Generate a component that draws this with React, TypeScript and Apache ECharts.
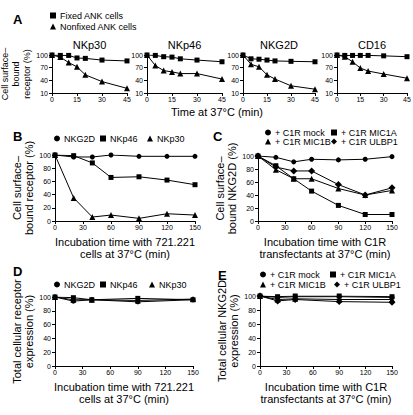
import React, { useEffect, useRef } from "react";
import * as echarts from "echarts";

const FONT = "Arial, 'Liberation Sans', Helvetica, sans-serif";

// ---------- Panel A data ----------
const aTimes = [0, 5, 10, 15, 20, 30, 45];
const aReceptors = ["NKp30", "NKp46", "NKG2D", "CD16"];
const aLegendNames = ["Fixed ANK cells", "Nonfixed ANK cells"];
const nkp30Fixed = [100, 99, 99, 93, 92, 88, 86];
const nkp30Nonfixed = [100, 95, 82, 72, 53, 37, 21];
const nkp46Fixed = [100, 99, 96, 95, 91, 88, 84];
const nkp46Nonfixed = [100, 75, 63, 60, 56, 56, 43];
const nkg2dFixed = [100, 91, 90, 88, 86, 85, 84];
const nkg2dNonfixed = [100, 78, 72, 53, 43, 27, 19];
const cd16Fixed = [100, 99, 99, 99, 99, 98, 96];
const cd16Nonfixed = [100, 96, 84, 69, 62, 55, 45];
const aFixed = [nkp30Fixed, nkp46Fixed, nkg2dFixed, cd16Fixed];
const aNonfixed = [nkp30Nonfixed, nkp46Nonfixed, nkg2dNonfixed, cd16Nonfixed];

// ---------- Panels B / C data ----------
const bcTimes = [0, 20, 40, 60, 90, 120, 150];
const bNames = ["NKG2D", "NKp46", "NKp30"];
const bNKG2D = [100, 97, 97, 100, 98, 98, 98];
const bNKp46 = [100, 99, 88, 66, 67, 62, 55];
const bNKp30 = [100, 35, 6, 9, 4, 11, 9];
const cNames = ["+ C1R mock", "+ C1R MIC1A", "+ C1R MIC1B", "+ C1R ULBP1"];
const cMock = [100, 98, 91, 95, 94, 95, 99];
const cMIC1A = [100, 85, 65, 46, 24, 10, 10];
const cMIC1B = [100, 79, 65, 65, 50, 40, 47];
const cULBP1 = [100, 83, 77, 77, 56, 40, 51];

// ---------- Panels D / E data ----------
const deTimes = [0, 20, 40, 90, 150];
const dNKG2D = [100, 94, 96, 93, 96];
const dNKp46 = [100, 99, 96, 98, 96];
const dNKp30 = [100, 96, 96, 95, 97];
const eMock = [100, 98, 99, 99, 98];
const eMIC1A = [100, 99, 100, 100, 99];
const eMIC1B = [100, 95, 96, 95, 95];
const eULBP1 = [100, 93, 95, 92, 91];

// ---------- texts ----------
const aTimeLabel = "Time at 37°C (min)";
const aYName = "Cell surface–\nbound\nreceptor (%)";
const bYName = "Cell surface–\nbound receptor (%)";
const cYName = "Cell surface–\nbound NKG2D (%)";
const dYName = "Total cellular receptor\nexpression (%)";
const eYName = "Total cellular NKG2D\nexpression (%)";
const bdXName = "Incubation time with 721.221\ncells at 37°C (min)";
const ceXName = "Incubation time with C1R\ntransfectants at 37°C (min)";

const SYMBOLS = ["circle", "rect", "triangle", "diamond"];

function buildOption() {
  const grids: any[] = [];
  const xAxes: any[] = [];
  const yAxes: any[] = [];
  const series: any[] = [];
  const legends: any[] = [];

  const axisLineStyle = { lineStyle: { color: "#000", width: 1 } };
  const labelStyle = { fontSize: 7, color: "#000", fontFamily: FONT };

  function addGrid(
    g: { left: number; top: number; width: number; height: number },
    x: { min: number; max: number; interval: number; name?: string; nameGap?: number },
    y: { min: number; max: number; interval: number; name?: string; nameGap?: number; nameSize?: number; lineHeight?: number }
  ) {
    const idx = grids.length;
    grids.push({ ...g, containLabel: false, outerBoundsMode: "none" });
    xAxes.push({
      type: "value",
      gridIndex: idx,
      min: x.min,
      max: x.max,
      interval: x.interval,
      axisLine: axisLineStyle,
      axisTick: { show: true, length: 3, lineStyle: { color: "#000" } },
      splitLine: { show: false },
      axisLabel: { ...labelStyle, margin: 3 },
      name: x.name || "",
      nameLocation: "middle",
      nameGap: x.nameGap || 15,
      nameTextStyle: { fontSize: 11, lineHeight: 12, color: "#000", fontFamily: FONT },
    });
    yAxes.push({
      type: "value",
      gridIndex: idx,
      min: y.min,
      max: y.max,
      interval: y.interval,
      axisLine: { show: true, lineStyle: { color: "#000", width: 1 } },
      axisTick: { show: true, length: 3, lineStyle: { color: "#000" } },
      splitLine: { show: false },
      axisLabel: { ...labelStyle, margin: 4 },
      name: y.name || "",
      nameLocation: "middle",
      nameRotate: 90,
      nameGap: y.nameGap || 17,
      nameTextStyle: {
        fontSize: y.nameSize || 11,
        lineHeight: y.lineHeight || (y.nameSize || 11) + 1.5,
        color: "#000",
        fontFamily: FONT,
        align: "center",
      },
    });
    return idx;
  }

  function addLine(idx: number, name: string, symbol: string, xs: number[], ys: number[], size: number) {
    series.push({
      type: "line",
      name,
      xAxisIndex: idx,
      yAxisIndex: idx,
      data: xs.map((v, i) => [v, ys[i]]),
      symbol,
      symbolSize: symbol === "triangle" ? size + 1 : symbol === "diamond" ? size + 2 : size,
      showSymbol: true,
      lineStyle: { color: "#000", width: 1 },
      itemStyle: { color: "#000" },
      silent: true,
      emphasis: { disabled: true },
    });
  }

  function addLegend(name: string, icon: string, cx: number, cy: number) {
    legends.push({
      left: cx - 3,
      top: cy - 6,
      padding: 0,
      itemGap: 0,
      itemWidth: 6,
      itemHeight: 6,
      selectedMode: false,
      data: [{ name, icon }],
      textStyle: { fontSize: 9, color: "#000", fontFamily: FONT, padding: [0, 0, 0, -1] },
    });
  }

  // ----- Panel A -----
  const aLefts = [52, 147, 243, 337];
  const aWidths = [75, 75, 72, 70];
  aReceptors.forEach((_, k) => {
    const idx = addGrid(
      { left: aLefts[k], top: 55, width: aWidths[k], height: 38 },
      { min: 0, max: 45, interval: 15 },
      { min: 10, max: 100, interval: 30, name: k === 0 ? aYName : "", nameGap: 15, nameSize: 9, lineHeight: 11 }
    );
    addLine(idx, aLegendNames[0], "rect", aTimes, aFixed[k], 5);
    addLine(idx, aLegendNames[1], "triangle", aTimes, aNonfixed[k], 5);
  });
  addLegend(aLegendNames[0], "rect", 53, 17);
  addLegend(aLegendNames[1], "triangle", 53, 28);

  // ----- Panel B -----
  const bIdx = addGrid(
    { left: 55, top: 155, width: 140, height: 66 },
    { min: 0, max: 150, interval: 30, name: bdXName, nameGap: 15 },
    { min: 0, max: 100, interval: 20, name: bYName, nameGap: 17 }
  );
  [bNKG2D, bNKp46, bNKp30].forEach((d, i) => addLine(bIdx, bNames[i], SYMBOLS[i], bcTimes, d, 5));
  addLegend(bNames[0], "circle", 57, 140);
  addLegend(bNames[1], "rect", 103, 140);
  addLegend(bNames[2], "triangle", 150, 140);

  // ----- Panel C -----
  const cIdx = addGrid(
    { left: 258, top: 156, width: 134, height: 65 },
    { min: 0, max: 150, interval: 30, name: ceXName, nameGap: 15 },
    { min: 0, max: 100, interval: 20, name: cYName, nameGap: 18 }
  );
  [cMock, cMIC1A, cMIC1B, cULBP1].forEach((d, i) => addLine(cIdx, cNames[i], SYMBOLS[i], bcTimes, d, 5));
  addLegend(cNames[0], "circle", 268, 134);
  addLegend(cNames[1], "rect", 334, 134);
  addLegend(cNames[2], "triangle", 268, 143);
  addLegend(cNames[3], "diamond", 334, 143);

  // ----- Panel D -----
  const dIdx = addGrid(
    { left: 55, top: 297, width: 138, height: 69 },
    { min: 0, max: 150, interval: 30, name: bdXName, nameGap: 15 },
    { min: 0, max: 100, interval: 20, name: dYName, nameGap: 17 }
  );
  [dNKG2D, dNKp46, dNKp30].forEach((d, i) => addLine(dIdx, bNames[i], SYMBOLS[i], deTimes, d, 5));
  addLegend(bNames[0], "circle", 57, 286);
  addLegend(bNames[1], "rect", 103, 286);
  addLegend(bNames[2], "triangle", 152, 286);

  // ----- Panel E -----
  const eIdx = addGrid(
    { left: 260, top: 296, width: 132, height: 70 },
    { min: 0, max: 150, interval: 30, name: ceXName, nameGap: 15 },
    { min: 0, max: 100, interval: 20, name: eYName, nameGap: 19 }
  );
  [eMock, eMIC1A, eMIC1B, eULBP1].forEach((d, i) => addLine(eIdx, cNames[i], SYMBOLS[i], deTimes, d, 5));
  addLegend(cNames[0], "circle", 263, 276);
  addLegend(cNames[1], "rect", 333, 276);
  addLegend(cNames[2], "triangle", 263, 286);
  addLegend(cNames[3], "diamond", 337, 286);

  // ----- graphic texts -----
  const letterFont = `bold 13px ${FONT}`;
  const letters = [
    { t: "A", x: 13, y: 19 },
    { t: "B", x: 13, y: 136 },
    { t: "C", x: 213, y: 136 },
    { t: "D", x: 13, y: 271 },
    { t: "E", x: 218, y: 275 },
  ];
  const graphic: any[] = letters.map((l) => ({
    type: "text",
    x: l.x,
    y: l.y,
    silent: true,
    style: { text: l.t, font: letterFont, fill: "#000", textAlign: "left", textVerticalAlign: "middle" },
  }));
  aReceptors.forEach((r, k) => {
    graphic.push({
      type: "text",
      x: aLefts[k] + aWidths[k] / 2,
      y: 45,
      silent: true,
      style: { text: r, font: `11px ${FONT}`, fill: "#000", textAlign: "center", textVerticalAlign: "middle" },
    });
  });
  graphic.push({
    type: "text",
    x: 217,
    y: 112,
    silent: true,
    style: { text: aTimeLabel, font: `11px ${FONT}`, fill: "#000", textAlign: "center", textVerticalAlign: "middle" },
  });

  return {
    animation: false,
    backgroundColor: "#fff",
    textStyle: { fontFamily: FONT },
    grid: grids,
    xAxis: xAxes,
    yAxis: yAxes,
    series,
    legend: legends,
    graphic,
  };
}

export default function App() {
  const ref = useRef<HTMLDivElement>(null);
  useEffect(() => {
    document.body.style.margin = "0";
    const chart = echarts.init(ref.current!, null, { renderer: "svg" });
    chart.setOption(buildOption() as any);
    return () => chart.dispose();
  }, []);
  return <div ref={ref} style={{ width: 413, height: 415, background: "#fff" }} />;
}
